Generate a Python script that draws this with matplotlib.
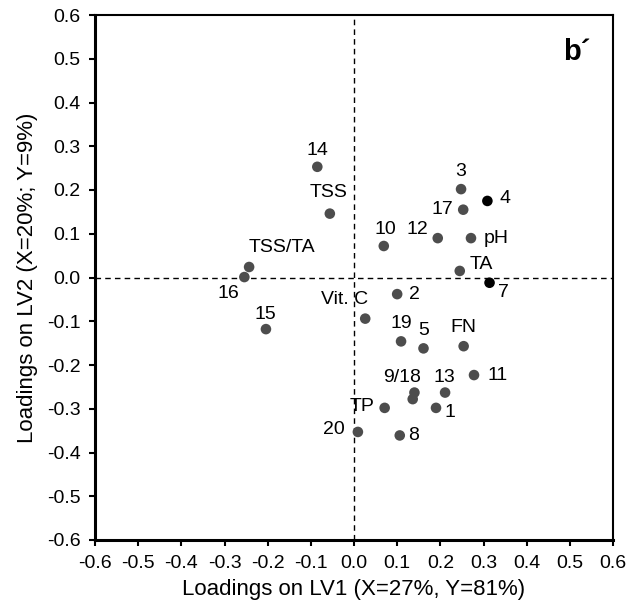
import matplotlib
matplotlib.use("Agg")
import matplotlib.pyplot as plt

plt.rcParams['font.family'] = ['Liberation Sans', 'DejaVu Sans']

# loadings
names = ['14', 'TSS', 'TSS/TA', '16', '15', '10', '12', '3', '17', '4', 'pH', 'TA', '7',
         '2', 'Vit. C', '19', '5', 'FN', '11', '9', '18', '13', 'TP', '1', '20', '8']
lv1 = [-0.085, -0.056, -0.243, -0.254, -0.204, 0.069, 0.194, 0.248, 0.253, 0.309, 0.271, 0.245, 0.314,
       0.100, 0.026, 0.109, 0.161, 0.254, 0.278, 0.140, 0.136, 0.211, 0.071, 0.190, 0.009, 0.106]
lv2 = [0.253, 0.146, 0.024, 0.001, -0.118, 0.072, 0.090, 0.202, 0.155, 0.175, 0.090, 0.015, -0.012,
       -0.038, -0.094, -0.146, -0.162, -0.157, -0.223, -0.263, -0.278, -0.263, -0.298, -0.298, -0.353, -0.361]
black_pts = ['4', '7']

# label text -> offset of label centre from point, in pixels (dx right, dy up)
label_off = {
    '14': (0, 16), 'TSS': (-1, 21), 'TSS/TA': (33, 19), '16': (-16, -16), '15': (-1, 15),
    '10': (2, 16), '12': (-20, 9), '3': (0, 18), '17': (-21, 0), '4': (18, 2), 'pH': (25, 0),
    'TA': (22, 6), '7': (14, -10), '2': (17, 0), 'Vit. C': (-21, 19), '19': (0, 18), '5': (0, 18),
    'FN': (0, 19), '11': (24, 0), '9/18': (-12, 15), '13': (-1, 15), 'TP': (-23, 1),
    '1': (14, -5), '20': (-24, 2), '8': (14, 0),
}
label_anchor = {'9/18': '9'}

fig = plt.figure(figsize=(6.43, 6.11), dpi=100)
ax = fig.add_axes([95/643, 1 - 540/611, 518/643, 525/611])

ax.axhline(0, color='black', lw=1, ls=(0, (4, 3)), zorder=1)
ax.axvline(0, color='black', lw=1, ls=(0, (4, 3)), zorder=1)

cols = ['black' if n in black_pts else '#4d4d4d' for n in names]
ax.scatter(lv1, lv2, s=58, c=cols, edgecolors='none', zorder=3)

for lab, (dx, dy) in label_off.items():
    key = label_anchor.get(lab, lab)
    i = names.index(key)
    ax.annotate(lab, (lv1[i], lv2[i]), xytext=(dx * 0.72, dy * 0.72), textcoords='offset points',
                ha='center', va='center', fontsize=14)

ax.set_xlim(-0.6, 0.6)
ax.set_ylim(-0.6, 0.6)
ticks = [-0.6, -0.5, -0.4, -0.3, -0.2, -0.1, 0.0, 0.1, 0.2, 0.3, 0.4, 0.5, 0.6]
ax.set_xticks(ticks)
ax.set_yticks(ticks)
ax.set_xticklabels([f'{t:.1f}' for t in ticks])
ax.set_yticklabels([f'{t:.1f}' for t in ticks])
ax.tick_params(direction='out', length=4.5, width=1.5, labelsize=14, pad=6)

for side in ['left', 'bottom']:
    ax.spines[side].set_linewidth(2.2)
for side in ['top', 'right']:
    ax.spines[side].set_linewidth(1.5)

ax.set_xlabel('Loadings on LV1 (X=27%, Y=81%)', fontsize=16, labelpad=5)
ax.set_ylabel('Loadings on LV2 (X=20%; Y=9%)', fontsize=16, labelpad=6)

ax.text(0.93, 0.93, 'b\u00b4', transform=ax.transAxes, fontsize=21, fontweight='bold',
        ha='center', va='center')

fig.savefig('out.png', dpi=100)
